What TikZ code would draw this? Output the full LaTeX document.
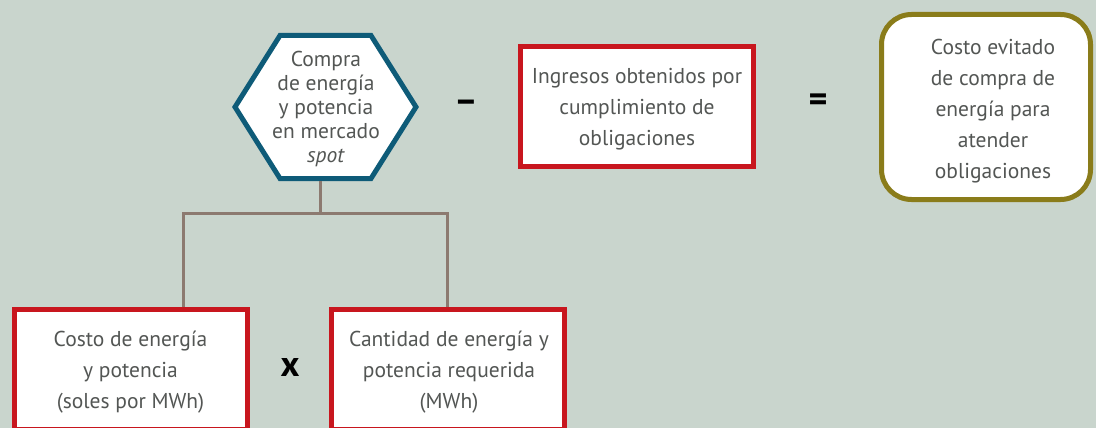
\documentclass[tikz,border=0pt]{standalone}
\usepackage{fontspec}
\setmainfont{PT Sans}
\definecolor{bg}{HTML}{C9D5CD}
\definecolor{redb}{HTML}{C8161E}
\definecolor{blueb}{HTML}{0E5B78}
\definecolor{oliveb}{HTML}{8A7C1A}
\definecolor{connc}{HTML}{8C7A70}
\definecolor{txt}{HTML}{535654}
\begin{document}
\begin{tikzpicture}[x=1pt,y=-1pt,
  redbox/.style={draw=redb,line width=5pt,fill=white,minimum width=233pt,minimum height=120pt,inner sep=0pt},
  boxtext/.style={text=txt,align=center,font=\fontsize{21.5}{31}\selectfont},
  conn/.style={draw=connc,line width=3pt},
  op/.style={text=black,font=\fontsize{36}{36}\selectfont\bfseries}]
\useasboundingbox (0,0) rectangle (1096,428);
\fill[bg] (0,0) rectangle (1096,428);
% hexagon
\coordinate (hl) at (235,107);
\coordinate (htl) at (280,35.5);
\coordinate (htr) at (371,35.5);
\coordinate (hr) at (416,107);
\coordinate (hbr) at (371,178.5);
\coordinate (hbl) at (280,178.5);
\draw[draw=blueb,line width=5pt,fill=white,line join=miter] (hl)--(htl)--(htr)--(hr)--(hbr)--(hbl)--cycle;
\node[boxtext,font=\fontsize{21.5}{24}\selectfont] (hex) at (326,109) {Compra\\de energía\\y potencia\\en mercado\\\textit{spot}};
\coordinate (hexb) at (320,181);
% top boxes
\node[redbox] (ing) at (637,106.5) {};
\node[boxtext] (ingt) at (637,109) {Ingresos obtenidos por\\cumplimiento de\\obligaciones};
\node[draw=oliveb,line width=5pt,fill=white,rounded corners=30pt,minimum width=209pt,minimum height=185pt,inner sep=0pt] (res) at (986,107) {};
\node[boxtext] (rest) at (993,111) {Costo evitado\\de compra de\\energía para\\atender\\obligaciones};
% bottom boxes
\node[redbox] (b1) at (130.5,369.5) {};
\node[boxtext] (b1t) at (130.5,372) {Costo de energía\\y potencia\\(soles por MWh)};
\node[redbox] (b2) at (447.5,369.5) {};
\node[boxtext] (b2t) at (449,372) {Cantidad de energía y\\potencia requerida\\(MWh)};
% operators
\node[op] (minus) at (466,106) {–};
\node[op] (eq) at (818,103) {=};
\node[op] (times) at (290,367) {x};
% connectors
\coordinate (j) at (320,213);
\coordinate (l1) at (183,213);
\coordinate (l2) at (447.5,213);
\draw[conn] (hexb) -- (j);
\draw[conn,line join=miter] (b1.north -| l1) -- (l1) -- (l2) -- (b2.north);
\end{tikzpicture}
\end{document}
